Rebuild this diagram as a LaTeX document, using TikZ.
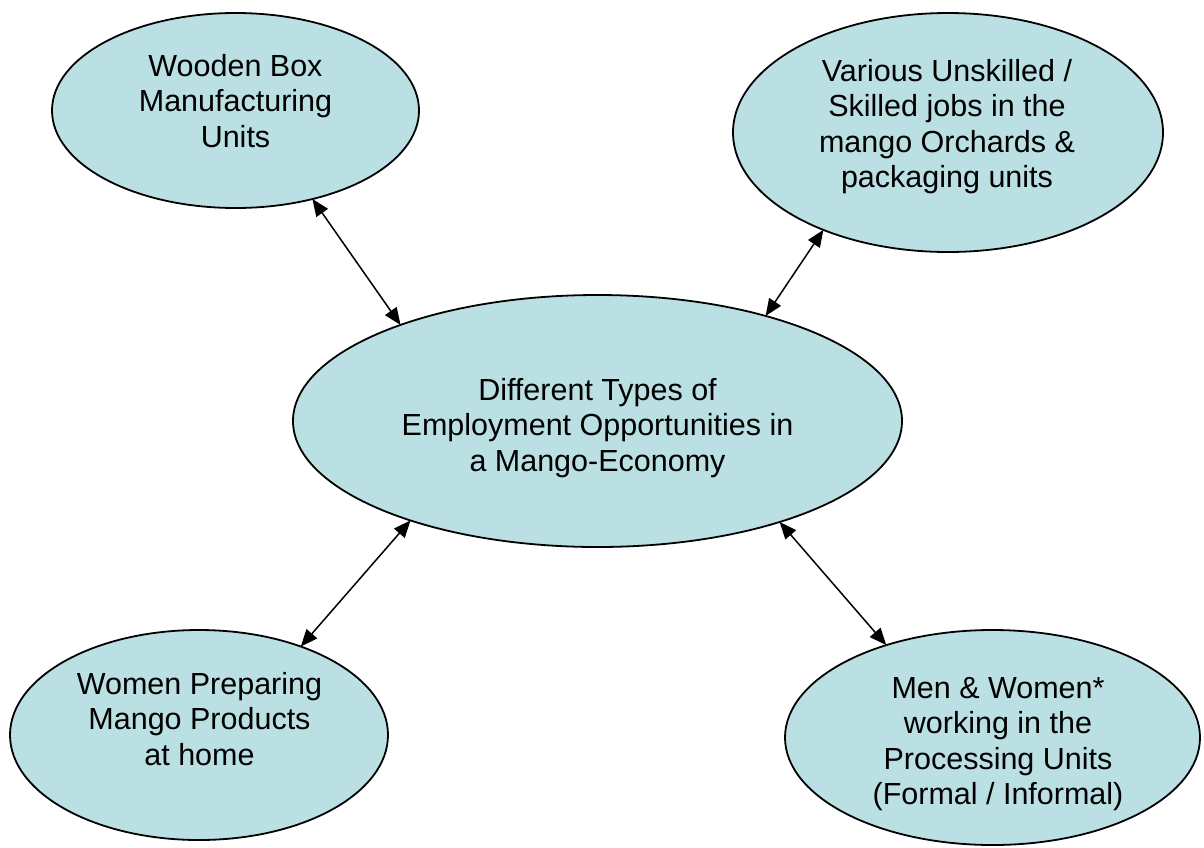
\documentclass[tikz,border=0pt]{standalone}
\usepackage{fontspec}
\setmainfont{Liberation Sans}
\usetikzlibrary{shapes.geometric,arrows.meta}
\definecolor{ovalfill}{RGB}{187,224,227}
\tikzset{
  oval/.style={ellipse,draw=black,line width=1.8pt,fill=ovalfill,inner sep=0pt,outer sep=0pt},
  ovaltext/.style={align=center,anchor=base,inner sep=0pt,font=\fontsize{30.5pt}{35.5pt}\selectfont},
  link/.style={line width=1.5pt,{Triangle[length=17pt,width=14pt]}-{Triangle[length=17pt,width=14pt]}}
}
\begin{document}
\begin{tikzpicture}[x=1pt,y=-1pt]
\useasboundingbox (0,0) rectangle (1204,847);
% ellipses
\node[oval,minimum width=367pt,minimum height=195pt] (box) at (235.5,110.5) {};
\node[oval,minimum width=430pt,minimum height=239pt] (jobs) at (948,132.5) {};
\node[oval,minimum width=609pt,minimum height=252pt] (main) at (597.5,421) {};
\node[oval,minimum width=378pt,minimum height=210pt] (women) at (199,735) {};
\node[oval,minimum width=415pt,minimum height=215pt] (proc) at (992.5,737.5) {};
% texts (anchored at the baseline of their last line)
\node[ovaltext] (tbox) at (235.5,147) {Wooden Box\\Manufacturing\\Units};
\node[ovaltext] (tjobs) at (947,187.5) {Various Unskilled /\\Skilled jobs in the\\mango Orchards \&\\packaging units};
\node[ovaltext] (tmain) at (597.5,471) {Different Types of\\Employment Opportunities in\\a Mango-Economy};
\node[ovaltext] (twomen) at (199.5,765) {Women Preparing\\Mango Products\\at home};
\node[ovaltext] (tproc) at (998,804.5) {Men \& Women*\\working in the\\Processing Units\\(Formal / Informal)};
% connectors
\draw[link] (box.-49) -- (main.154.4);
\draw[link] (jobs.218.8) -- (main.32.3);
\draw[link] (main.208) -- (women.41.9);
\draw[link] (main.-29.2) -- (proc.139.6);
\end{tikzpicture}
\end{document}
